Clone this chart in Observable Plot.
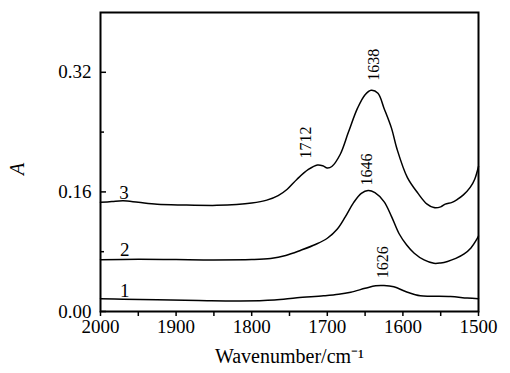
<!DOCTYPE html>
<html>
<head>
<meta charset="utf-8">
<script src="https://cdn.jsdelivr.net/npm/d3@7"></script>
<script src="https://cdn.jsdelivr.net/npm/@observablehq/plot@0.6"></script>
<style>
  html, body { margin: 0; padding: 0; background: #fff; }
  svg, svg text { font-family: "Liberation Serif", "Times New Roman", Times, serif !important; }
</style>
</head>
<body>
<div id="chart"></div>
<script>
// Spectrum 3
const wave3 = [2000,1985,1970,1950,1925,1890,1846,1820,1800,1780,1765,1753,1740,1725,1713,1706,1700,1694,1683,1672,1660,1650,1642,1633,1625,1615,1608,1594,1580,1568,1559,1550,1544,1535,1528,1520,1511,1505,1500];
const abs3  = [0.146,0.147,0.148,0.146,0.1435,0.1425,0.142,0.143,0.145,0.149,0.155,0.1636,0.177,0.190,0.196,0.195,0.192,0.194,0.210,0.240,0.272,0.290,0.296,0.292,0.272,0.245,0.218,0.179,0.158,0.1436,0.139,0.140,0.1436,0.146,0.150,0.156,0.166,0.177,0.194];
// Spectrum 2
const wave2 = [2000,1950,1900,1850,1800,1775,1755,1735,1715,1700,1687,1676,1665,1655,1646,1637,1625,1615,1605,1595,1585,1572,1559,1550,1541,1530,1519,1510,1502,1500];
const abs2  = [0.0693,0.070,0.0695,0.069,0.0695,0.071,0.075,0.082,0.090,0.098,0.110,0.127,0.146,0.158,0.162,0.159,0.147,0.127,0.104,0.089,0.078,0.069,0.0645,0.065,0.067,0.071,0.077,0.085,0.097,0.101];
// Spectrum 1
const wave1 = [2000,1970,1925,1870,1815,1770,1740,1705,1685,1669,1650,1636,1625,1612,1594,1577,1560,1537,1515,1500];
const abs1  = [0.017,0.0165,0.0156,0.0148,0.0142,0.0155,0.0185,0.021,0.023,0.0258,0.031,0.0345,0.0348,0.033,0.0258,0.021,0.0205,0.020,0.018,0.017];

// Curve number labels
const curveNames = ["1","2","3"];
const curveLabelX = [1968,1968,1969];
const curveLabelY = [0.028,0.082,0.158];

// Peak labels (rotated)
const peakNames = ["1638","1712","1646","1626"];
const peakX = [1639,1728,1647,1627];
const peakY = [0.330,0.226,0.190,0.066];

// Ticks
const xMajor = [2000,1900,1800,1700,1600,1500];
const xMinor = [1950,1850,1750,1650,1550];
const yMajor = [0.00,0.16,0.32];
const yMinor = [0.08,0.24];
const yTickLabels = ["0.00","0.16","0.32"];

const toRows = (w, a, s) => w.map((x, i) => ({w: x, a: a[i], s}));
const series = [...toRows(wave1, abs1, "1"), ...toRows(wave2, abs2, "2"), ...toRows(wave3, abs3, "3")];
const curveLabels = curveNames.map((t, i) => ({t, x: curveLabelX[i], y: curveLabelY[i]}));
const peakLabels = peakNames.map((t, i) => ({t, x: peakX[i], y: peakY[i]}));

const W = 510, H = 373, ML = 100, MR = 32, MT = 12, MB = 62;
const innerW = W - ML - MR;
const serif = "Liberation Serif";

const chart = Plot.plot({
  width: W, height: H,
  marginLeft: ML, marginRight: MR, marginTop: MT, marginBottom: MB,
  style: {fontFamily: serif, fontSize: "19px", background: "#fff", color: "#000"},
  x: {domain: [2000, 1500], axis: null},
  y: {domain: [0, 0.40], axis: null},
  marks: [
    Plot.line(series, {x: "w", y: "a", z: "s", stroke: "#000", strokeWidth: 1.5, curve: "catmull-rom"}),
    Plot.frame({stroke: "#000", strokeWidth: 2}),
    // y ticks inward
    Plot.tickY(yMajor, {y: d => d, stroke: "#000", strokeWidth: 1.5, insetRight: innerW - 6}),
    Plot.tickY(yMinor, {y: d => d, stroke: "#000", strokeWidth: 1.5, insetRight: innerW - 4}),
    Plot.text(yMajor, {y: d => d, text: (d, i) => yTickLabels[i], frameAnchor: "left", dx: -9, textAnchor: "end", fontSize: 19, fontFamily: serif, fill: "#000"}),
    // x ticks outward
    Plot.axisX({ticks: xMajor, tickSize: 5, tickFormat: () => "", stroke: "#000", strokeWidth: 1.5}),
    Plot.axisX({ticks: xMinor, tickSize: 5, tickFormat: () => "", stroke: "#000", strokeWidth: 1.5}),
    Plot.text(xMajor, {x: d => d, text: d => String(d), frameAnchor: "bottom", dy: 21, fontSize: 19, fontFamily: serif, fill: "#000"}),
    // axis titles
    Plot.text(["Wavenumber/cm\u207B\u00B9"], {frameAnchor: "bottom", dy: 51, fontSize: 20, fontFamily: serif, fill: "#000"}),
    Plot.text(["A"], {frameAnchor: "left", dx: -83, dy: 13, rotate: -90, fontStyle: "italic", fontSize: 20, fontFamily: serif, fill: "#000"}),
    // curve labels
    Plot.text(curveLabels, {x: "x", y: "y", text: "t", fontSize: 19, fontFamily: serif, fill: "#000"}),
    // peak labels
    Plot.text(peakLabels, {x: "x", y: "y", text: "t", rotate: -90, fontSize: 16, fontFamily: serif, fill: "#000"})
  ]
});
document.getElementById("chart").append(chart);
</script>
</body>
</html>
